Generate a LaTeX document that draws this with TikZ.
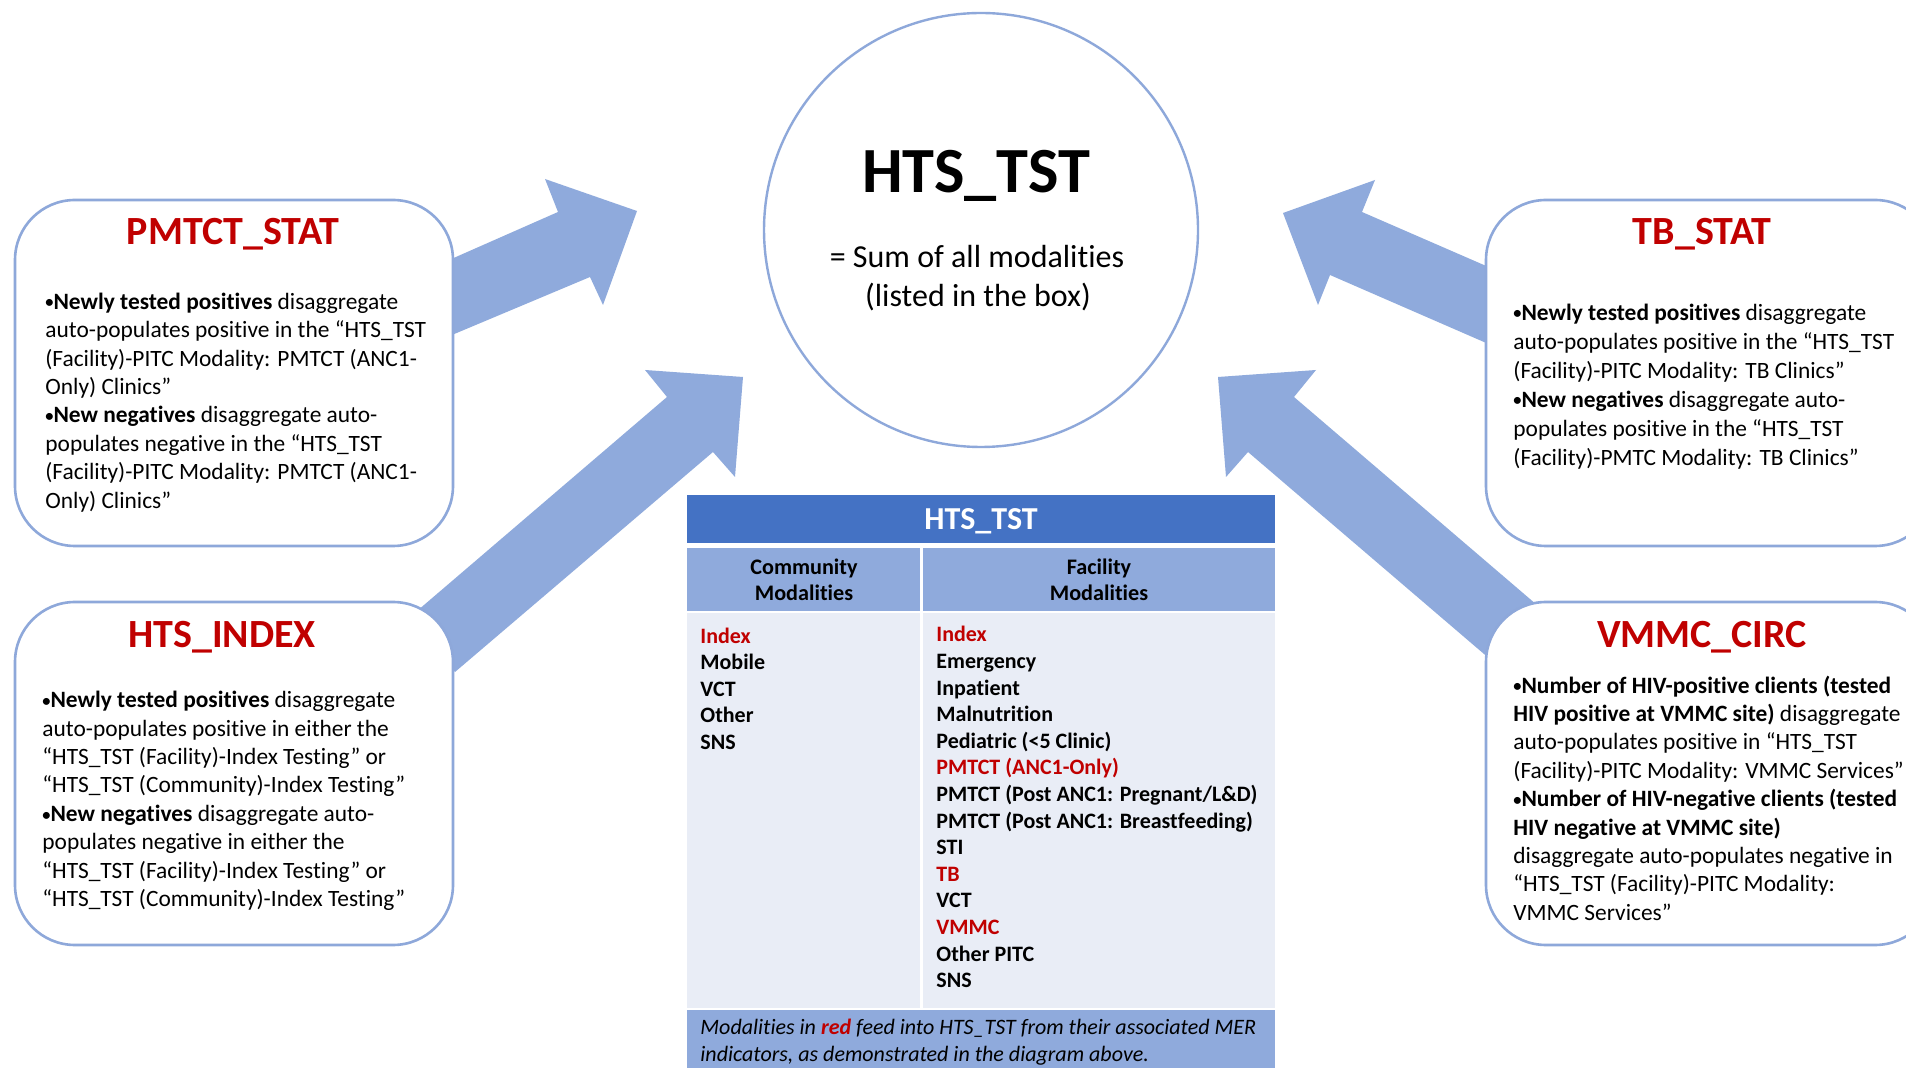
\documentclass[tikz,border=0pt]{standalone}
\usepackage{fontspec}
\setmainfont{Carlito}[Ligatures=NoCommon]
\definecolor{arrowblue}{HTML}{8FAADC}
\definecolor{lineblue}{HTML}{8EA8DA}
\definecolor{hdrblue}{HTML}{4472C4}
\definecolor{colblue}{HTML}{8FAADC}
\definecolor{bodyblue}{HTML}{E9EDF6}
\definecolor{redtxt}{HTML}{C00000}
\newcommand{\blt}{\raisebox{0.12ex}{\scalebox{0.7}{•}}}
\begin{document}
\begin{tikzpicture}[x=0.5pt,y=-0.5pt,
  arrowshape/.style={fill=arrowblue},
  ibox/.style={draw=lineblue, line width=1.3pt, fill=white, rounded corners=30pt, inner sep=0pt},
  ititle/.style={font=\fontsize{20}{24}\selectfont\bfseries, text=redtxt, anchor=base, inner sep=0pt},
  btxt/.style={font=\fontsize{11.7}{14.2}\selectfont, align=left, anchor=west, inner sep=0pt, text=black},
  cell/.style={inner sep=0pt, draw=none},
  tbtxt/.style={font=\fontsize{11}{13.3}\selectfont\bfseries, align=left, anchor=west, inner sep=0pt, text=black}
]
\useasboundingbox (0,0) rectangle (1906,1068);
\clip (0,0) rectangle (1906,1068);
\fill[white] (0,0) rectangle (1906,1068);

% block arrows
\fill[arrowshape] (440,264) -- (558,212) -- (545,179) -- (637,211) -- (603,305) -- (590,277) -- (440,340) -- cycle;
\fill[arrowshape] (410,617) -- (667,397) -- (645,370) -- (743,377) -- (735,477) -- (713,452) -- (455,672) -- cycle;
\fill[arrowshape] (1500,272) -- (1362,212) -- (1375,180) -- (1283,213) -- (1318,305) -- (1330,275) -- (1500,349) -- cycle;
\fill[arrowshape] (1551,617) -- (1294,397) -- (1316,370) -- (1218,377) -- (1226,477) -- (1248,452) -- (1491,660) -- cycle;

% circle
\node[circle, draw=lineblue, line width=1.2pt, minimum size=217pt, inner sep=0pt] (circ) at (981,230) {};
\node[anchor=base, inner sep=0pt, font=\fontsize{32.2}{36}\selectfont\bfseries] (ctitle) at (976,193) {HTS\_TST};
\node[anchor=base, inner sep=0pt, font=\fontsize{16}{19}\selectfont] (csum1) at (977,268) {= Sum of all modalities};
\node[anchor=base, inner sep=0pt, font=\fontsize{16}{19}\selectfont] (csum2) at (978,307) {(listed in the box)};

% boxes
\node[ibox, minimum width=219pt, minimum height=173pt] (pmbox) at (234,373) {};
\node[ibox, minimum width=219pt, minimum height=171.5pt] (ixbox) at (234,773.5) {};
\node[ibox, minimum width=224.5pt, minimum height=173pt] (tbbox) at (1710.5,373) {};
\node[ibox, minimum width=224.5pt, minimum height=171.5pt] (vmbox) at (1710.5,773.5) {};

\node[ititle] (pmtitle) at (233,245) {PMTCT\_STAT};
\node[ititle] (ixtitle) at (222,648) {HTS\_INDEX};
\node[ititle] (tbtitle) at (1702,245) {TB\_STAT};
\node[ititle] (vmtitle) at (1702,648) {VMMC\_CIRC};

\node[btxt] (pmtxt) at (45,403) {\strut\textbf{\blt Newly tested positives} disaggregate\\auto-populates positive in the “HTS\_TST\\(Facility)-PITC Modality: PMTCT (ANC1-\\Only) Clinics”\\\textbf{\blt New negatives} disaggregate auto-\\populates negative in the “HTS\_TST\\(Facility)-PITC Modality: PMTCT (ANC1-\\Only) Clinics”\strut};

\node[btxt] (ixtxt) at (42,801.5) {\strut\textbf{\blt Newly tested positives} disaggregate\\auto-populates positive in either the\\“HTS\_TST (Facility)-Index Testing” or\\“HTS\_TST (Community)-Index Testing”\\\textbf{\blt New negatives} disaggregate auto-\\populates negative in either the\\“HTS\_TST (Facility)-Index Testing” or\\“HTS\_TST (Community)-Index Testing”\strut};

\node[btxt, font=\fontsize{11.7}{14.5}\selectfont] (tbtxt) at (1513,387) {\strut\textbf{\blt Newly tested positives} disaggregate\\auto-populates positive in the “HTS\_TST\\(Facility)-PITC Modality: TB Clinics”\\\textbf{\blt New negatives} disaggregate auto-\\populates positive in the “HTS\_TST\\(Facility)-PMTC Modality: TB Clinics”\strut};

\node[btxt] (vmtxt) at (1513,801) {\strut\textbf{\blt Number of HIV-positive clients (tested}\\\textbf{HIV positive at VMMC site)} disaggregate\\auto-populates positive in “HTS\_TST\\(Facility)-PITC Modality: VMMC Services”\\\textbf{\blt Number of HIV-negative clients (tested}\\\textbf{HIV negative at VMMC site)}\\disaggregate auto-populates negative in\\“HTS\_TST (Facility)-PITC Modality:\\VMMC Services”\strut};

% table
\node[cell, fill=hdrblue, minimum width=294pt, minimum height=24pt] (thead) at (981,519) {};
\node[anchor=base, inner sep=0pt, text=white, font=\fontsize{16}{19}\selectfont\bfseries] (theadtxt) at (981,530) {HTS\_TST};
\node[cell, fill=colblue, minimum width=116.25pt, minimum height=31.5pt] (colL) at (803.25,579.5) {};
\node[cell, fill=colblue, minimum width=176.25pt, minimum height=31.5pt] (colR) at (1098.75,579.5) {};
\node[cell, fill=bodyblue, minimum width=116.25pt, minimum height=197.5pt] (bodyL) at (803.25,810.5) {};
\node[cell, fill=bodyblue, minimum width=176.25pt, minimum height=197.5pt] (bodyR) at (1098.75,810.5) {};
\node[cell, fill=colblue, minimum width=294pt, minimum height=35pt] (foot) at (981,1045) {};

\node[inner sep=0pt, align=center, font=\fontsize{11.1}{12.9}\selectfont\bfseries] (colLtxt) at (804,582) {\strut Community\\Modalities\strut};
\node[inner sep=0pt, align=center, font=\fontsize{11.1}{12.9}\selectfont\bfseries] (colRtxt) at (1099,582) {\strut Facility\\Modalities\strut};

\node[tbtxt] (listL) at (700,691) {\strut\textcolor{redtxt}{Index}\\Mobile\\VCT\\Other\\SNS\strut};
\node[tbtxt] (listR) at (936,809.5) {\strut\textcolor{redtxt}{Index}\\Emergency\\Inpatient\\Malnutrition\\Pediatric (<5 Clinic)\\\textcolor{redtxt}{PMTCT (ANC1-Only)}\\PMTCT (Post ANC1: Pregnant/L\&D)\\PMTCT (Post ANC1: Breastfeeding)\\STI\\\textcolor{redtxt}{TB}\\VCT\\\textcolor{redtxt}{VMMC}\\Other PITC\\SNS\strut};

\node[anchor=west, inner sep=0pt, align=left, font=\fontsize{11}{13.5}\selectfont\itshape] (foottxt) at (700,1043) {\strut Modalities in \textcolor{redtxt}{\textbf{red}} feed into HTS\_TST from their associated MER\\indicators, as demonstrated in the diagram above.\strut};
\end{tikzpicture}
\end{document}
